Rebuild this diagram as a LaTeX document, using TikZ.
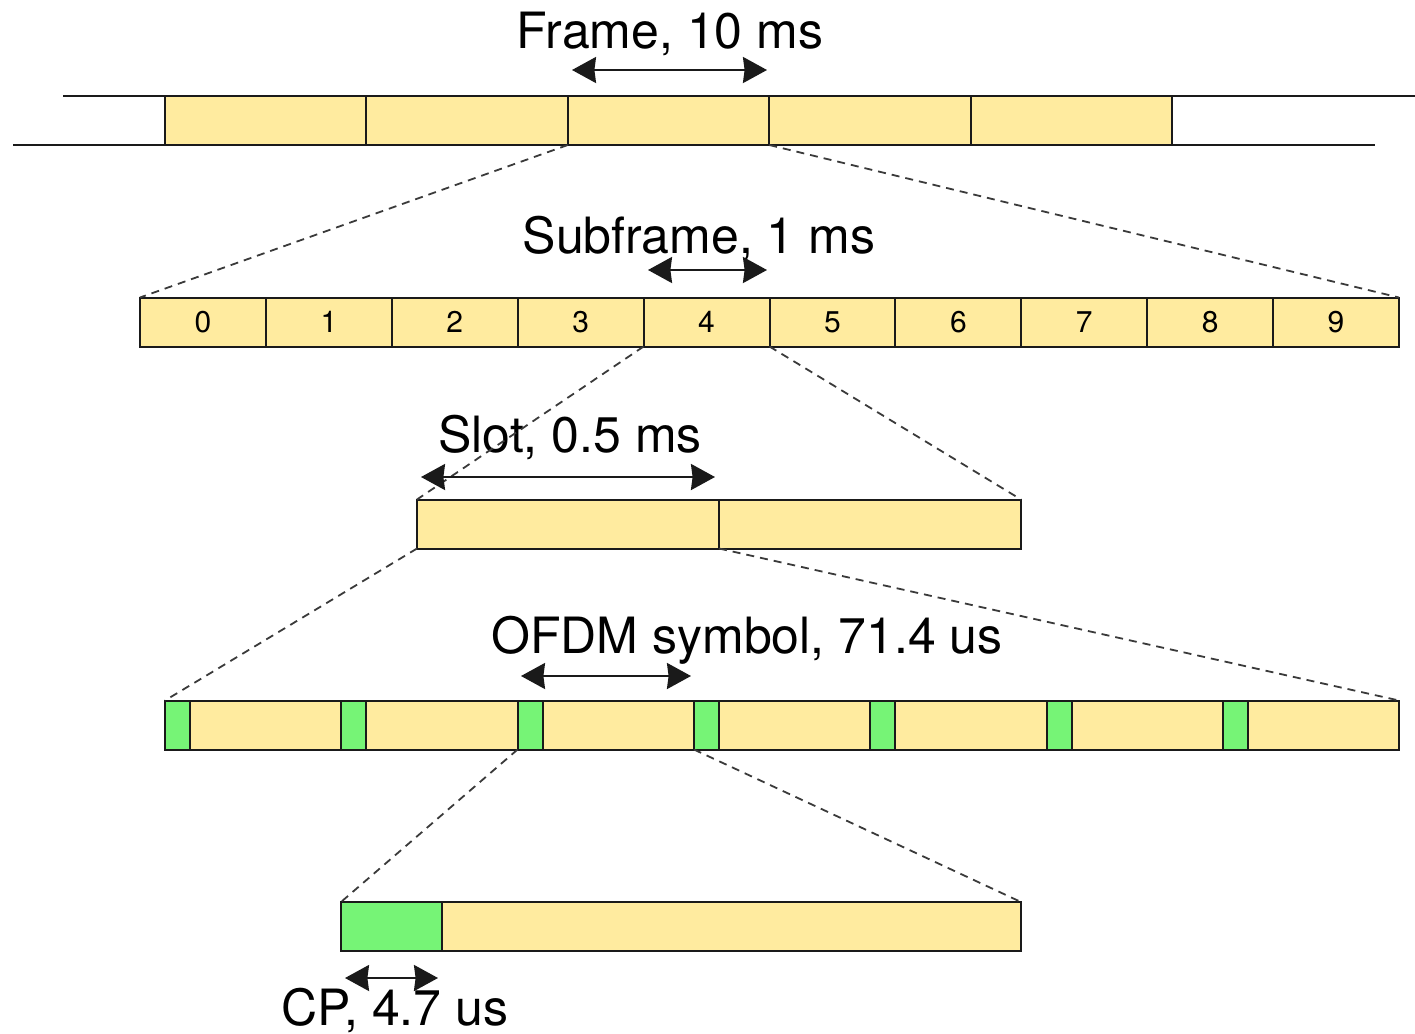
\documentclass[tikz,border=0pt]{standalone}
\usepackage{fontspec}
\setmainfont{TeX Gyre Heros}
\usepackage{xcolor}
\usepackage{tikz}
\usetikzlibrary{arrows.meta}
\definecolor{yellowbox}{HTML}{FFEB9F}
\definecolor{greencp}{HTML}{76F476}
\definecolor{blackline}{HTML}{1A1A1A}
\definecolor{graydash}{HTML}{3A3A3A}
\tikzset{every node/.append style={font=\fontsize{25}{30}\selectfont}}
\tikzset{
  cell/.style={draw=blackline,line width=1pt,fill=yellowbox,minimum height=24.5pt,
    inner sep=0pt,outer sep=0pt,anchor=west},
  cpcell/.style={cell,fill=greencp},
  zoomline/.style={graydash,line width=0.9pt,dash pattern=on 4pt off 3pt},
  span/.style={{Stealth[length=12pt,width=13pt,inset=0.8pt]}-{Stealth[length=12pt,width=13pt,inset=0.8pt]},
    line width=1.1pt,blackline},
  caption/.style={anchor=base,inner sep=0pt}
}

\begin{document}
\begin{tikzpicture}[x=0.5pt,y=-0.5pt]
  \useasboundingbox (0,0) rectangle (1415,1034);
  % frame row
  \coordinate (topL) at (63,96);
  \coordinate (topR) at (1415,96);
  \coordinate (botL) at (13,145);
  \coordinate (botR) at (1375,145);
  \draw[blackline,line width=1pt] (topL) -- (topR);
  \draw[blackline,line width=1pt] (botL) -- (botR);
  \foreach \i in {1,...,5}
    \node[cell,minimum width=100.7pt] (fr\i) at ({165+201.4*(\i-1)},120.5) {};
  \node[caption] (frlbl) at (670,48) {Frame, 10 ms};
  \coordinate (frL) at (572,70);
  \coordinate (frR) at (767,70);
  \draw[span] (frL) -- (frR);
  % subframes
  \foreach \i in {0,...,9}
    \node[cell,minimum width=62.95pt,font=\fontsize{15}{18}\selectfont] (sf\i)
      at ({140+125.9*\i},322) {\i};
  \draw[zoomline] (fr3.south west) -- (sf0.north west);
  \draw[zoomline] (fr3.south east) -- (sf9.north east);
  \node[caption] (sflbl) at (699,253) {Subframe, 1 ms};
  \coordinate (sfL) at (648,270);
  \coordinate (sfR) at (767,270);
  \draw[span] (sfL) -- (sfR);
  % slots
  \foreach \i in {0,1}
    \node[cell,minimum width=151pt] (sl\i) at ({417+302*\i},524) {};
  \node[caption] (sllbl) at (570,452) {Slot, 0.5 ms};
  \draw[zoomline] (sf4.south west) -- (sl0.north west);
  \draw[zoomline] (sf4.south east) -- (sl1.north east);
  \coordinate (slL) at (421,477);
  \coordinate (slR) at (715,477);
  \draw[span] (slL) -- (slR);
  % ofdm symbols
  \foreach \i in {0,...,6}{
    \node[cpcell,minimum width=12.5pt] (cp\i) at ({165+176.3*\i},725) {};
    \node[cell,minimum width=75.65pt] (sy\i) at (cp\i.east) {};
  }
  \draw[zoomline] (sl0.south west) -- (cp0.north west);
  \draw[zoomline] (sl1.south west) -- (sy6.north east);
  \node[caption] (sylbl) at (747,653) {OFDM symbol, 71.4 us};
  \coordinate (syL) at (521,676);
  \coordinate (syR) at (691,676);
  \draw[span] (syL) -- (syR);
  % one symbol with its cyclic prefix
  \node[cpcell,minimum width=50.5pt] (cpz) at (341,926.5) {};
  \node[cell,minimum width=289.5pt] (syz) at (cpz.east) {};
  \draw[zoomline] (cp2.south west) -- (cpz.north west);
  \draw[zoomline] (cp3.south west) -- (syz.north east);
  \coordinate (cpL) at (345,978);
  \coordinate (cpR) at (438,978);
  \draw[span] (cpL) -- (cpR);
  \node[caption] (cplbl) at (395,1025) {CP, 4.7 us};
\end{tikzpicture}
\end{document}
